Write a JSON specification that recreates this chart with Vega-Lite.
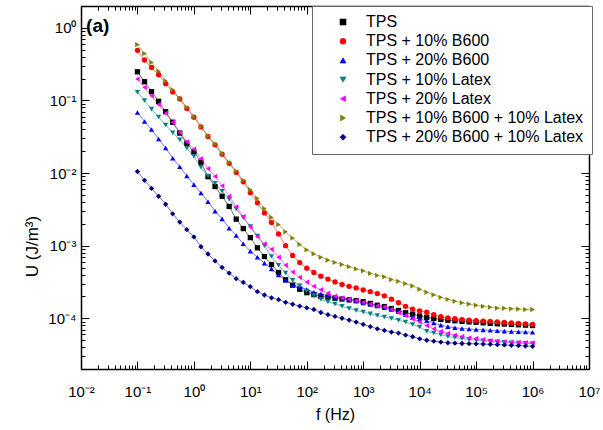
{
 "$schema": "https://vega.github.io/schema/vega-lite/v6.json",
 "width": 508, "height": 363,
 "autosize": {"type": "none"},
 "padding": {"left": 81, "top": 6, "right": 14, "bottom": 61},
 "background": "white",
 "config": {"view": {"stroke": null}, "font": "Liberation Sans"},
 "datasets": {
  "names": [{"s":"K","name":"TPS"},{"s":"R","name":"TPS + 10% B600"},{"s":"B","name":"TPS + 20% B600"},{"s":"T","name":"TPS + 10% Latex"},{"s":"M","name":"TPS + 20% Latex"},{"s":"O","name":"TPS + 10% B600 + 10% Latex"},{"s":"N","name":"TPS + 20% B600 + 10% Latex"}],
  "curves": [
{"s":"K","f":0.1,"u":0.248},{"s":"K","f":0.1334,"u":0.181},{"s":"K","f":0.1778,"u":0.132},{"s":"K","f":0.2371,"u":0.0973},{"s":"K","f":0.3162,"u":0.07},{"s":"K","f":0.4217,"u":0.0501},{"s":"K","f":0.5623,"u":0.0355},{"s":"K","f":0.7499,"u":0.0257},{"s":"K","f":1,"u":0.0195},{"s":"K","f":1.334,"u":0.0141},{"s":"K","f":1.778,"u":0.00891},{"s":"K","f":2.371,"u":0.00653},{"s":"K","f":3.162,"u":0.00479},{"s":"K","f":4.217,"u":0.00347},{"s":"K","f":5.623,"u":0.00232},{"s":"K","f":7.499,"u":0.00172},{"s":"K","f":10,"u":0.00129},{"s":"K","f":13.34,"u":9.33e-4},{"s":"K","f":17.78,"u":7.08e-4},{"s":"K","f":23.71,"u":5.5e-4},{"s":"K","f":31.62,"u":4.27e-4},{"s":"K","f":42.17,"u":3.39e-4},{"s":"K","f":56.23,"u":2.86e-4},{"s":"K","f":74.99,"u":2.51e-4},{"s":"K","f":100,"u":2.25e-4},{"s":"K","f":133.4,"u":2.12e-4},{"s":"K","f":177.8,"u":2.0e-4},{"s":"K","f":237.1,"u":1.95e-4},{"s":"K","f":316.2,"u":1.89e-4},{"s":"K","f":421.7,"u":1.84e-4},{"s":"K","f":562.3,"u":1.79e-4},{"s":"K","f":749.9,"u":1.75e-4},{"s":"K","f":1000,"u":1.69e-4},{"s":"K","f":1334,"u":1.6e-4},{"s":"K","f":1778,"u":1.51e-4},{"s":"K","f":2371,"u":1.45e-4},{"s":"K","f":3162,"u":1.36e-4},{"s":"K","f":4217,"u":1.28e-4},{"s":"K","f":5623,"u":1.19e-4},{"s":"K","f":7499,"u":1.14e-4},{"s":"K","f":10000,"u":1.07e-4},{"s":"K","f":13340,"u":1.03e-4},{"s":"K","f":17780,"u":9.89e-5},{"s":"K","f":23710,"u":9.64e-5},{"s":"K","f":31620,"u":9.4e-5},{"s":"K","f":42170,"u":9.23e-5},{"s":"K","f":56230,"u":9.06e-5},{"s":"K","f":74990,"u":8.91e-5},{"s":"K","f":100000,"u":8.81e-5},{"s":"K","f":133400,"u":8.65e-5},{"s":"K","f":177800,"u":8.51e-5},{"s":"K","f":237100,"u":8.39e-5},{"s":"K","f":316200,"u":8.32e-5},{"s":"K","f":421700,"u":8.22e-5},{"s":"K","f":562300,"u":8.13e-5},{"s":"K","f":749900,"u":8.04e-5},{"s":"K","f":1000000,"u":7.94e-5},
{"s":"R","f":0.1,"u":0.49},{"s":"R","f":0.1334,"u":0.361},{"s":"R","f":0.1778,"u":0.285},{"s":"R","f":0.2371,"u":0.226},{"s":"R","f":0.3162,"u":0.17},{"s":"R","f":0.4217,"u":0.131},{"s":"R","f":0.5623,"u":0.105},{"s":"R","f":0.7499,"u":0.0776},{"s":"R","f":1,"u":0.0589},{"s":"R","f":1.334,"u":0.0432},{"s":"R","f":1.778,"u":0.032},{"s":"R","f":2.371,"u":0.0245},{"s":"R","f":3.162,"u":0.0182},{"s":"R","f":4.217,"u":0.0136},{"s":"R","f":5.623,"u":0.0102},{"s":"R","f":7.499,"u":0.00759},{"s":"R","f":10,"u":0.00537},{"s":"R","f":13.34,"u":0.00389},{"s":"R","f":17.78,"u":0.00282},{"s":"R","f":23.71,"u":0.00209},{"s":"R","f":31.62,"u":0.00145},{"s":"R","f":42.17,"u":0.001},{"s":"R","f":56.23,"u":7.33e-4},{"s":"R","f":74.99,"u":5.85e-4},{"s":"R","f":100,"u":4.9e-4},{"s":"R","f":133.4,"u":4.27e-4},{"s":"R","f":177.8,"u":3.8e-4},{"s":"R","f":237.1,"u":3.47e-4},{"s":"R","f":316.2,"u":3.16e-4},{"s":"R","f":421.7,"u":2.92e-4},{"s":"R","f":562.3,"u":2.75e-4},{"s":"R","f":749.9,"u":2.62e-4},{"s":"R","f":1000,"u":2.45e-4},{"s":"R","f":1334,"u":2.32e-4},{"s":"R","f":1778,"u":2.19e-4},{"s":"R","f":2371,"u":2.04e-4},{"s":"R","f":3162,"u":1.83e-4},{"s":"R","f":4217,"u":1.64e-4},{"s":"R","f":5623,"u":1.46e-4},{"s":"R","f":7499,"u":1.34e-4},{"s":"R","f":10000,"u":1.26e-4},{"s":"R","f":13340,"u":1.21e-4},{"s":"R","f":17780,"u":1.12e-4},{"s":"R","f":23710,"u":1.05e-4},{"s":"R","f":31620,"u":1.01e-4},{"s":"R","f":42170,"u":9.84e-5},{"s":"R","f":56230,"u":9.59e-5},{"s":"R","f":74990,"u":9.4e-5},{"s":"R","f":100000,"u":9.29e-5},{"s":"R","f":133400,"u":9.16e-5},{"s":"R","f":177800,"u":9.06e-5},{"s":"R","f":237100,"u":8.91e-5},{"s":"R","f":316200,"u":8.75e-5},{"s":"R","f":421700,"u":8.63e-5},{"s":"R","f":562300,"u":8.51e-5},{"s":"R","f":749900,"u":8.38e-5},{"s":"R","f":1000000,"u":8.26e-5},
{"s":"B","f":0.1,"u":0.0684},{"s":"B","f":0.1334,"u":0.0513},{"s":"B","f":0.1778,"u":0.0398},{"s":"B","f":0.2371,"u":0.0295},{"s":"B","f":0.3162,"u":0.0221},{"s":"B","f":0.4217,"u":0.016},{"s":"B","f":0.5623,"u":0.0122},{"s":"B","f":0.7499,"u":0.00912},{"s":"B","f":1,"u":0.00692},{"s":"B","f":1.334,"u":0.0053},{"s":"B","f":1.778,"u":0.00403},{"s":"B","f":2.371,"u":0.00299},{"s":"B","f":3.162,"u":0.00234},{"s":"B","f":4.217,"u":0.00174},{"s":"B","f":5.623,"u":0.00138},{"s":"B","f":7.499,"u":0.00106},{"s":"B","f":10,"u":8.41e-4},{"s":"B","f":13.34,"u":6.92e-4},{"s":"B","f":17.78,"u":5.75e-4},{"s":"B","f":23.71,"u":4.79e-4},{"s":"B","f":31.62,"u":3.94e-4},{"s":"B","f":42.17,"u":3.35e-4},{"s":"B","f":56.23,"u":2.88e-4},{"s":"B","f":74.99,"u":2.71e-4},{"s":"B","f":100,"u":2.49e-4},{"s":"B","f":133.4,"u":2.28e-4},{"s":"B","f":177.8,"u":2.16e-4},{"s":"B","f":237.1,"u":2.04e-4},{"s":"B","f":316.2,"u":1.96e-4},{"s":"B","f":421.7,"u":1.9e-4},{"s":"B","f":562.3,"u":1.82e-4},{"s":"B","f":749.9,"u":1.73e-4},{"s":"B","f":1000,"u":1.62e-4},{"s":"B","f":1334,"u":1.55e-4},{"s":"B","f":1778,"u":1.48e-4},{"s":"B","f":2371,"u":1.4e-4},{"s":"B","f":3162,"u":1.32e-4},{"s":"B","f":4217,"u":1.23e-4},{"s":"B","f":5623,"u":1.12e-4},{"s":"B","f":7499,"u":1.02e-4},{"s":"B","f":10000,"u":9.77e-5},{"s":"B","f":13340,"u":9.23e-5},{"s":"B","f":17780,"u":8.61e-5},{"s":"B","f":23710,"u":8.04e-5},{"s":"B","f":31620,"u":7.67e-5},{"s":"B","f":42170,"u":7.41e-5},{"s":"B","f":56230,"u":7.21e-5},{"s":"B","f":74990,"u":7.11e-5},{"s":"B","f":100000,"u":7.0e-5},{"s":"B","f":133400,"u":6.92e-5},{"s":"B","f":177800,"u":6.82e-5},{"s":"B","f":237100,"u":6.73e-5},{"s":"B","f":316200,"u":6.65e-5},{"s":"B","f":421700,"u":6.58e-5},{"s":"B","f":562300,"u":6.52e-5},{"s":"B","f":749900,"u":6.46e-5},{"s":"B","f":1000000,"u":6.41e-5},
{"s":"T","f":0.1,"u":0.13},{"s":"T","f":0.1334,"u":0.1},{"s":"T","f":0.1778,"u":0.0759},{"s":"T","f":0.2371,"u":0.0593},{"s":"T","f":0.3162,"u":0.0459},{"s":"T","f":0.4217,"u":0.0359},{"s":"T","f":0.5623,"u":0.0288},{"s":"T","f":0.7499,"u":0.0221},{"s":"T","f":1,"u":0.017},{"s":"T","f":1.334,"u":0.012},{"s":"T","f":1.778,"u":0.00912},{"s":"T","f":2.371,"u":0.00724},{"s":"T","f":3.162,"u":0.00562},{"s":"T","f":4.217,"u":0.00437},{"s":"T","f":5.623,"u":0.0032},{"s":"T","f":7.499,"u":0.00243},{"s":"T","f":10,"u":0.00184},{"s":"T","f":13.34,"u":0.00136},{"s":"T","f":17.78,"u":0.001},{"s":"T","f":23.71,"u":7.08e-4},{"s":"T","f":31.62,"u":5.37e-4},{"s":"T","f":42.17,"u":4.19e-4},{"s":"T","f":56.23,"u":3.33e-4},{"s":"T","f":74.99,"u":2.8e-4},{"s":"T","f":100,"u":2.37e-4},{"s":"T","f":133.4,"u":2.05e-4},{"s":"T","f":177.8,"u":1.83e-4},{"s":"T","f":237.1,"u":1.69e-4},{"s":"T","f":316.2,"u":1.57e-4},{"s":"T","f":421.7,"u":1.46e-4},{"s":"T","f":562.3,"u":1.36e-4},{"s":"T","f":749.9,"u":1.28e-4},{"s":"T","f":1000,"u":1.22e-4},{"s":"T","f":1334,"u":1.15e-4},{"s":"T","f":1778,"u":1.09e-4},{"s":"T","f":2371,"u":1.04e-4},{"s":"T","f":3162,"u":9.93e-5},{"s":"T","f":4217,"u":9.4e-5},{"s":"T","f":5623,"u":8.87e-5},{"s":"T","f":7499,"u":8.22e-5},{"s":"T","f":10000,"u":7.59e-5},{"s":"T","f":13340,"u":6.61e-5},{"s":"T","f":17780,"u":6.27e-5},{"s":"T","f":23710,"u":5.94e-5},{"s":"T","f":31620,"u":5.62e-5},{"s":"T","f":42170,"u":5.43e-5},{"s":"T","f":56230,"u":5.25e-5},{"s":"T","f":74990,"u":5.11e-5},{"s":"T","f":100000,"u":4.99e-5},{"s":"T","f":133400,"u":4.9e-5},{"s":"T","f":177800,"u":4.81e-5},{"s":"T","f":237100,"u":4.73e-5},{"s":"T","f":316200,"u":4.67e-5},{"s":"T","f":421700,"u":4.61e-5},{"s":"T","f":562300,"u":4.56e-5},{"s":"T","f":749900,"u":4.51e-5},{"s":"T","f":1000000,"u":4.47e-5},
{"s":"M","f":0.1,"u":0.198},{"s":"M","f":0.1334,"u":0.151},{"s":"M","f":0.1778,"u":0.116},{"s":"M","f":0.2371,"u":0.0877},{"s":"M","f":0.3162,"u":0.0664},{"s":"M","f":0.4217,"u":0.0501},{"s":"M","f":0.5623,"u":0.0363},{"s":"M","f":0.7499,"u":0.0269},{"s":"M","f":1,"u":0.0214},{"s":"M","f":1.334,"u":0.0158},{"s":"M","f":1.778,"u":0.0115},{"s":"M","f":2.371,"u":0.00902},{"s":"M","f":3.162,"u":0.00668},{"s":"M","f":4.217,"u":0.00479},{"s":"M","f":5.623,"u":0.00343},{"s":"M","f":7.499,"u":0.00251},{"s":"M","f":10,"u":0.0018},{"s":"M","f":13.34,"u":0.00133},{"s":"M","f":17.78,"u":0.00106},{"s":"M","f":23.71,"u":8.91e-4},{"s":"M","f":31.62,"u":6.92e-4},{"s":"M","f":42.17,"u":5.37e-4},{"s":"M","f":56.23,"u":4.32e-4},{"s":"M","f":74.99,"u":3.66e-4},{"s":"M","f":100,"u":3.15e-4},{"s":"M","f":133.4,"u":2.75e-4},{"s":"M","f":177.8,"u":2.47e-4},{"s":"M","f":237.1,"u":2.21e-4},{"s":"M","f":316.2,"u":2.02e-4},{"s":"M","f":421.7,"u":1.9e-4},{"s":"M","f":562.3,"u":1.83e-4},{"s":"M","f":749.9,"u":1.75e-4},{"s":"M","f":1000,"u":1.65e-4},{"s":"M","f":1334,"u":1.57e-4},{"s":"M","f":1778,"u":1.48e-4},{"s":"M","f":2371,"u":1.43e-4},{"s":"M","f":3162,"u":1.33e-4},{"s":"M","f":4217,"u":1.19e-4},{"s":"M","f":5623,"u":1.09e-4},{"s":"M","f":7499,"u":9.77e-5},{"s":"M","f":10000,"u":8.91e-5},{"s":"M","f":13340,"u":7.94e-5},{"s":"M","f":17780,"u":7.16e-5},{"s":"M","f":23710,"u":6.59e-5},{"s":"M","f":31620,"u":6.19e-5},{"s":"M","f":42170,"u":5.86e-5},{"s":"M","f":56230,"u":5.61e-5},{"s":"M","f":74990,"u":5.37e-5},{"s":"M","f":100000,"u":5.26e-5},{"s":"M","f":133400,"u":5.08e-5},{"s":"M","f":177800,"u":4.94e-5},{"s":"M","f":237100,"u":4.85e-5},{"s":"M","f":316200,"u":4.78e-5},{"s":"M","f":421700,"u":4.7e-5},{"s":"M","f":562300,"u":4.66e-5},{"s":"M","f":749900,"u":4.61e-5},{"s":"M","f":1000000,"u":4.58e-5},
{"s":"O","f":0.1,"u":0.589},{"s":"O","f":0.1334,"u":0.442},{"s":"O","f":0.1778,"u":0.334},{"s":"O","f":0.2371,"u":0.253},{"s":"O","f":0.3162,"u":0.186},{"s":"O","f":0.4217,"u":0.14},{"s":"O","f":0.5623,"u":0.106},{"s":"O","f":0.7499,"u":0.0805},{"s":"O","f":1,"u":0.0596},{"s":"O","f":1.334,"u":0.0437},{"s":"O","f":1.778,"u":0.0324},{"s":"O","f":2.371,"u":0.0251},{"s":"O","f":3.162,"u":0.0186},{"s":"O","f":4.217,"u":0.014},{"s":"O","f":5.623,"u":0.0106},{"s":"O","f":7.499,"u":0.00794},{"s":"O","f":10,"u":0.00589},{"s":"O","f":13.34,"u":0.00447},{"s":"O","f":17.78,"u":0.00324},{"s":"O","f":23.71,"u":0.00245},{"s":"O","f":31.62,"u":0.00195},{"s":"O","f":42.17,"u":0.00155},{"s":"O","f":56.23,"u":0.00127},{"s":"O","f":74.99,"u":0.00104},{"s":"O","f":100,"u":8.77e-4},{"s":"O","f":133.4,"u":7.71e-4},{"s":"O","f":177.8,"u":6.92e-4},{"s":"O","f":237.1,"u":6.34e-4},{"s":"O","f":316.2,"u":5.87e-4},{"s":"O","f":421.7,"u":5.5e-4},{"s":"O","f":562.3,"u":5.13e-4},{"s":"O","f":749.9,"u":4.79e-4},{"s":"O","f":1000,"u":4.5e-4},{"s":"O","f":1334,"u":4.15e-4},{"s":"O","f":1778,"u":3.89e-4},{"s":"O","f":2371,"u":3.72e-4},{"s":"O","f":3162,"u":3.41e-4},{"s":"O","f":4217,"u":3.23e-4},{"s":"O","f":5623,"u":2.99e-4},{"s":"O","f":7499,"u":2.78e-4},{"s":"O","f":10000,"u":2.51e-4},{"s":"O","f":13340,"u":2.28e-4},{"s":"O","f":17780,"u":2.1e-4},{"s":"O","f":23710,"u":1.94e-4},{"s":"O","f":31620,"u":1.82e-4},{"s":"O","f":42170,"u":1.71e-4},{"s":"O","f":56230,"u":1.63e-4},{"s":"O","f":74990,"u":1.57e-4},{"s":"O","f":100000,"u":1.51e-4},{"s":"O","f":133400,"u":1.46e-4},{"s":"O","f":177800,"u":1.42e-4},{"s":"O","f":237100,"u":1.38e-4},{"s":"O","f":316200,"u":1.37e-4},{"s":"O","f":421700,"u":1.35e-4},{"s":"O","f":562300,"u":1.34e-4},{"s":"O","f":749900,"u":1.32e-4},{"s":"O","f":1000000,"u":1.32e-4},
{"s":"N","f":0.1,"u":0.0105},{"s":"N","f":0.1334,"u":0.00794},{"s":"N","f":0.1778,"u":0.00614},{"s":"N","f":0.2371,"u":0.00479},{"s":"N","f":0.3162,"u":0.00372},{"s":"N","f":0.4217,"u":0.00274},{"s":"N","f":0.5623,"u":0.00211},{"s":"N","f":0.7499,"u":0.00166},{"s":"N","f":1,"u":0.00132},{"s":"N","f":1.334,"u":9.66e-4},{"s":"N","f":1.778,"u":7.67e-4},{"s":"N","f":2.371,"u":6.17e-4},{"s":"N","f":3.162,"u":5.01e-4},{"s":"N","f":4.217,"u":4.19e-4},{"s":"N","f":5.623,"u":3.51e-4},{"s":"N","f":7.499,"u":3.13e-4},{"s":"N","f":10,"u":2.72e-4},{"s":"N","f":13.34,"u":2.32e-4},{"s":"N","f":17.78,"u":2.09e-4},{"s":"N","f":23.71,"u":1.91e-4},{"s":"N","f":31.62,"u":1.8e-4},{"s":"N","f":42.17,"u":1.66e-4},{"s":"N","f":56.23,"u":1.56e-4},{"s":"N","f":74.99,"u":1.47e-4},{"s":"N","f":100,"u":1.39e-4},{"s":"N","f":133.4,"u":1.32e-4},{"s":"N","f":177.8,"u":1.2e-4},{"s":"N","f":237.1,"u":1.12e-4},{"s":"N","f":316.2,"u":1.06e-4},{"s":"N","f":421.7,"u":1.0e-4},{"s":"N","f":562.3,"u":9.44e-5},{"s":"N","f":749.9,"u":8.87e-5},{"s":"N","f":1000,"u":8.22e-5},{"s":"N","f":1334,"u":7.67e-5},{"s":"N","f":1778,"u":7.16e-5},{"s":"N","f":2371,"u":6.79e-5},{"s":"N","f":3162,"u":6.46e-5},{"s":"N","f":4217,"u":6.24e-5},{"s":"N","f":5623,"u":5.86e-5},{"s":"N","f":7499,"u":5.56e-5},{"s":"N","f":10000,"u":5.21e-5},{"s":"N","f":13340,"u":4.98e-5},{"s":"N","f":17780,"u":4.84e-5},{"s":"N","f":23710,"u":4.7e-5},{"s":"N","f":31620,"u":4.59e-5},{"s":"N","f":42170,"u":4.53e-5},{"s":"N","f":56230,"u":4.49e-5},{"s":"N","f":74990,"u":4.46e-5},{"s":"N","f":100000,"u":4.44e-5},{"s":"N","f":133400,"u":4.41e-5},{"s":"N","f":177800,"u":4.37e-5},{"s":"N","f":237100,"u":4.33e-5},{"s":"N","f":316200,"u":4.29e-5},{"s":"N","f":421700,"u":4.25e-5},{"s":"N","f":562300,"u":4.2e-5},{"s":"N","f":749900,"u":4.15e-5},{"s":"N","f":1000000,"u":4.11e-5}
  ]
 },
 "data": {"name": "curves"},
 "transform": [{"lookup": "s", "from": {"data": {"name": "names"}, "key": "s", "fields": ["name"]}}],
 "layer": [
  {
   "mark": {"type": "line", "strokeWidth": 1, "strokeOpacity": 0.55},
   "encoding": {
    "x": {"field": "f", "type": "quantitative", "scale": {"type": "log", "domain": [0.01, 10000000], "nice": false},
     "axis": {"orient": "bottom", "grid": false,
      "values": [0.01,0.02,0.03,0.04,0.05,0.06,0.07,0.08,0.09,0.1,0.2,0.3,0.4,0.5,0.6,0.7,0.8,0.9,1,2,3,4,5,6,7,8,9,10,20,30,40,50,60,70,80,90,100,200,300,400,500,600,700,800,900,1000,2000,3000,4000,5000,6000,7000,8000,9000,10000,20000,30000,40000,50000,60000,70000,80000,90000,100000,200000,300000,400000,500000,600000,700000,800000,900000,1000000,2000000,3000000,4000000,5000000,6000000,7000000,8000000,9000000,10000000],
      "labelExpr": "abs(log(datum.value)/LN10 - round(log(datum.value)/LN10)) < 0.01 ? '10' + ['⁻²','⁻¹','⁰','¹','²','³','⁴','⁵','⁶','⁷'][round(log(datum.value)/LN10) + 2] : ''",
      "tickSize": {"condition": {"test": "abs(log(datum.value)/LN10 - round(log(datum.value)/LN10)) < 0.01", "value": -8}, "value": -4},
      "tickColor": "#000", "tickWidth": 1, "domainColor": "#000", "domainWidth": 1.5,
      "labelFont": "Liberation Sans", "labelFontSize": 15, "labelColor": "#000", "labelPadding": 23,
      "labelFlush": false, "labelOverlap": false, "labelBound": false,
      "title": "f (Hz)", "titleFont": "Liberation Sans", "titleFontSize": 16, "titleFontWeight": "normal", "titleColor": "#000", "titlePadding": 3}},
    "y": {"field": "u", "type": "quantitative", "scale": {"type": "log", "domain": [0.00002, 2], "nice": false},
     "axis": {"orient": "left", "grid": false,
      "values": [0.00002,0.00003,0.00004,0.00005,0.00006,0.00007,0.00008,0.00009,0.0001,0.0002,0.0003,0.0004,0.0005,0.0006,0.0007,0.0008,0.0009,0.001,0.002,0.003,0.004,0.005,0.006,0.007,0.008,0.009,0.01,0.02,0.03,0.04,0.05,0.06,0.07,0.08,0.09,0.1,0.2,0.3,0.4,0.5,0.6,0.7,0.8,0.9,1,2],
      "labelExpr": "abs(log(datum.value)/LN10 - round(log(datum.value)/LN10)) < 0.01 ? '10' + ['⁻⁵','⁻⁴','⁻³','⁻²','⁻¹','⁰'][round(log(datum.value)/LN10) + 5] : ''",
      "tickSize": {"condition": {"test": "abs(log(datum.value)/LN10 - round(log(datum.value)/LN10)) < 0.01", "value": -8}, "value": -4},
      "tickColor": "#000", "tickWidth": 1, "domainColor": "#000", "domainWidth": 1.5,
      "labelFont": "Liberation Sans", "labelFontSize": 15, "labelColor": "#000", "labelPadding": 13,
      "labelFlush": false, "labelOverlap": false, "labelBound": false,
      "title": "U (J/m³)", "titleFont": "Liberation Sans", "titleFontSize": 17, "titleFontWeight": "normal", "titleColor": "#000",
      "titleX": -49, "titleY": 240, "titleBaseline": "middle", "titleAlign": "center", "titleAngle": 270}},
    "color": {"field": "name", "type": "nominal",
     "scale": {"domain": ["TPS","TPS + 10% B600","TPS + 20% B600","TPS + 10% Latex","TPS + 20% Latex","TPS + 10% B600 + 10% Latex","TPS + 20% B600 + 10% Latex"],
               "range": ["#000000","#ff0000","#0000ff","#008080","#ff00ff","#808000","#000080"]},
     "legend": {"orient": "none", "legendX": 231, "legendY": 0, "direction": "vertical", "title": null,
      "padding": 8, "strokeColor": "#666", "fillColor": "#ffffff", "cornerRadius": 0,
      "labelFont": "Liberation Sans", "labelFontSize": 16, "labelColor": "#000", "labelLimit": 400,
      "symbolSize": 36, "symbolOffset": 15, "labelOffset": 15, "rowPadding": 3.2,
      "encode": {"symbols": {"update": {
        "shape": {"value": {"expr": "['M-6,0H6M-0.8,-0.8H0.8V0.8H-0.8Z','M-6,0H6M0.9,0A0.9,0.9,0,1,1,-0.9,0A0.9,0.9,0,1,1,0.9,0Z','M-6,0H6M0,-1L1,0.8H-1Z','M-6,0H6M0,1L1,-0.8H-1Z','M-6,0H6M-1,0L0.8,-1V1Z','M-6,0H6M1,0L-0.8,-1V1Z','M-6,0H6M0,-1.1L1.1,0L0,1.1L-1.1,0Z'][indexof(['TPS','TPS + 10% B600','TPS + 20% B600','TPS + 10% Latex','TPS + 20% Latex','TPS + 10% B600 + 10% Latex','TPS + 20% B600 + 10% Latex'], datum.value)]"}},
        "stroke": {"value": {"expr": "['#000000','#ff0000','#0000ff','#008080','#ff00ff','#808000','#000080'][indexof(['TPS','TPS + 10% B600','TPS + 20% B600','TPS + 10% Latex','TPS + 20% Latex','TPS + 10% B600 + 10% Latex','TPS + 20% B600 + 10% Latex'], datum.value)]"}},
        "strokeWidth": {"value": 1}, "size": {"value": 36},
        "fillOpacity": {"value": 1}, "strokeOpacity": {"value": 0.6}, "opacity": {"value": 1}}}}}}
   }
  },
  {
   "mark": {"type": "point", "filled": true, "size": 28, "opacity": 1},
   "encoding": {
    "x": {"field": "f", "type": "quantitative", "scale": {"type": "log", "domain": [0.01, 10000000], "nice": false},
     "axis": {"orient": "top", "grid": false, "labels": false, "title": null,
      "values": [0.01,0.02,0.03,0.04,0.05,0.06,0.07,0.08,0.09,0.1,0.2,0.3,0.4,0.5,0.6,0.7,0.8,0.9,1,2,3,4,5,6,7,8,9,10,20,30,40,50,60,70,80,90,100,200,300,400,500,600,700,800,900,1000,2000,3000,4000,5000,6000,7000,8000,9000,10000,20000,30000,40000,50000,60000,70000,80000,90000,100000,200000,300000,400000,500000,600000,700000,800000,900000,1000000,2000000,3000000,4000000,5000000,6000000,7000000,8000000,9000000,10000000],
      "tickSize": {"condition": {"test": "abs(log(datum.value)/LN10 - round(log(datum.value)/LN10)) < 0.01", "value": -8}, "value": -4},
      "tickColor": "#000", "tickWidth": 1, "domainColor": "#000", "domainWidth": 1.5}},
    "y": {"field": "u", "type": "quantitative", "scale": {"type": "log", "domain": [0.00002, 2], "nice": false},
     "axis": {"orient": "right", "grid": false, "labels": false, "title": null,
      "values": [0.00002,0.00003,0.00004,0.00005,0.00006,0.00007,0.00008,0.00009,0.0001,0.0002,0.0003,0.0004,0.0005,0.0006,0.0007,0.0008,0.0009,0.001,0.002,0.003,0.004,0.005,0.006,0.007,0.008,0.009,0.01,0.02,0.03,0.04,0.05,0.06,0.07,0.08,0.09,0.1,0.2,0.3,0.4,0.5,0.6,0.7,0.8,0.9,1,2],
      "tickSize": {"condition": {"test": "abs(log(datum.value)/LN10 - round(log(datum.value)/LN10)) < 0.01", "value": -8}, "value": -4},
      "tickColor": "#000", "tickWidth": 1, "domainColor": "#000", "domainWidth": 1.5}},
    "color": {"field": "name", "type": "nominal",
     "legend": {"orient": "none", "legendX": 231, "legendY": 0, "direction": "vertical", "title": null,
      "padding": 8, "strokeColor": "#666", "fillColor": "#ffffff", "cornerRadius": 0,
      "labelFont": "Liberation Sans", "labelFontSize": 16, "labelColor": "#000", "labelLimit": 400,
      "symbolSize": 36, "symbolOffset": 15, "labelOffset": 15, "rowPadding": 3.2,
      "encode": {"symbols": {"update": {
        "shape": {"value": {"expr": "['M-6,0H6M-0.8,-0.8H0.8V0.8H-0.8Z','M-6,0H6M0.9,0A0.9,0.9,0,1,1,-0.9,0A0.9,0.9,0,1,1,0.9,0Z','M-6,0H6M0,-1L1,0.8H-1Z','M-6,0H6M0,1L1,-0.8H-1Z','M-6,0H6M-1,0L0.8,-1V1Z','M-6,0H6M1,0L-0.8,-1V1Z','M-6,0H6M0,-1.1L1.1,0L0,1.1L-1.1,0Z'][indexof(['TPS','TPS + 10% B600','TPS + 20% B600','TPS + 10% Latex','TPS + 20% Latex','TPS + 10% B600 + 10% Latex','TPS + 20% B600 + 10% Latex'], datum.value)]"}},
        "stroke": {"value": {"expr": "['#000000','#ff0000','#0000ff','#008080','#ff00ff','#808000','#000080'][indexof(['TPS','TPS + 10% B600','TPS + 20% B600','TPS + 10% Latex','TPS + 20% Latex','TPS + 10% B600 + 10% Latex','TPS + 20% B600 + 10% Latex'], datum.value)]"}},
        "strokeWidth": {"value": 1}, "size": {"value": 36},
        "fillOpacity": {"value": 1}, "strokeOpacity": {"value": 0.6}, "opacity": {"value": 1}}}}}},
    "shape": {"field": "name", "type": "nominal",
     "scale": {"domain": ["TPS","TPS + 10% B600","TPS + 20% B600","TPS + 10% Latex","TPS + 20% Latex","TPS + 10% B600 + 10% Latex","TPS + 20% B600 + 10% Latex"],
               "range": ["square","circle","triangle-up","triangle-down","triangle-left","triangle-right","diamond"]},
     "legend": null}
   }
  },
  {
   "data": {"values": [{"x": 0.0123, "y": 1.05, "t": "(a)"}]},
   "transform": [],
   "mark": {"type": "text", "font": "Liberation Sans", "fontWeight": "bold", "fontSize": 19, "align": "left", "baseline": "middle", "color": "#000"},
   "encoding": {
    "x": {"field": "x", "type": "quantitative", "axis": null},
    "y": {"field": "y", "type": "quantitative", "axis": null},
    "text": {"field": "t"}
   }
  }
 ],
 "resolve": {"axis": {"x": "independent", "y": "independent"}}
}
